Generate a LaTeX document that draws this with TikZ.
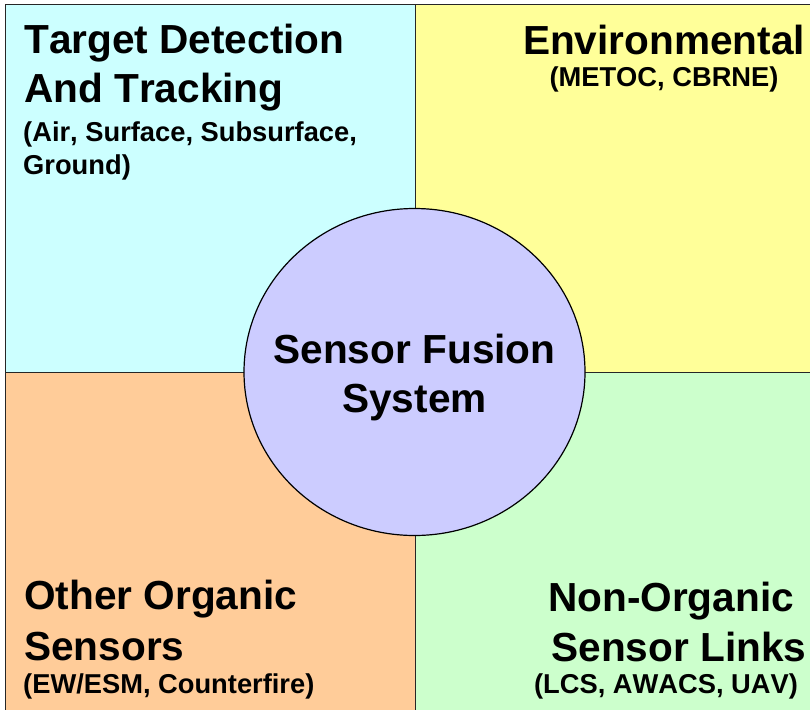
\documentclass[tikz,border=0pt]{standalone}
\usepackage{fontspec}
\setmainfont[Kerning=Off]{Liberation Sans}
\usetikzlibrary{shapes.geometric}

\definecolor{qtarget}{HTML}{CCFFFF}
\definecolor{qenv}{HTML}{FFFF99}
\definecolor{qorganic}{HTML}{FFCC99}
\definecolor{qlinks}{HTML}{CCFFCC}
\definecolor{qfusion}{HTML}{CCCCFF}

\tikzset{
  quad/.style={draw=black!85, line width=1.2pt, rectangle, inner sep=0pt, anchor=north west},
  head/.style={font=\fontsize{40.6}{49}\selectfont\bfseries, inner sep=0pt},
  sub/.style={font=\fontsize{27.3}{32}\selectfont\bfseries, inner sep=0pt},
}

\begin{document}
\begin{tikzpicture}[x=1pt, y=-1pt]
  \useasboundingbox (0,0) rectangle (810,709);
  \clip (0,0) rectangle (810,709);

  % four quadrants, the outer ones running past the page edge
  \node[quad, fill=qtarget,  minimum width=410pt, minimum height=368pt] (tl) at (5,4) {};
  \node[quad, fill=qenv,     minimum width=420pt, minimum height=368pt] (tr) at (415,4) {};
  \node[quad, fill=qorganic, minimum width=410pt, minimum height=360pt] (bl) at (5,372) {};
  \node[quad, fill=qlinks,   minimum width=420pt, minimum height=360pt] (br) at (415,372) {};

  % central hub
  \node[ellipse, draw=black, line width=1.2pt, fill=qfusion,
        minimum width=341pt, minimum height=327pt] (hub) at (414.5,372) {};
  \node[head, anchor=base] (hub1) at (414.5,363) {Sensor Fusion};
  \node[head, anchor=base] (hub2) at (414.5,412) {System};

  % top left
  \node[head, anchor=base west] (tl1) at (24,53)  {Target Detection};
  \node[head, anchor=base west] (tl2) at (24,102) {And Tracking};
  \node[sub,  anchor=base west] (tl3) at (23,141) {(Air, Surface, Subsurface,};
  \node[sub,  anchor=base west] (tl4) at (23,174) {Ground)};

  % top right
  \node[head, anchor=base] (tr1) at (664,55) {Environmental};
  \node[sub,  anchor=base] (tr2) at (664,86) {(METOC, CBRNE)};

  % bottom left
  \node[head, anchor=base west] (bl1) at (24,609) {Other Organic};
  \node[head, anchor=base west] (bl2) at (24,660) {Sensors};
  \node[sub,  anchor=base west] (bl3) at (23,693) {(EW/ESM, Counterfire)};

  % bottom right
  \node[head, anchor=base] (br1) at (671,611) {Non-Organic};
  \node[head, anchor=base] (br2) at (679,661) {Sensor Links};
  \node[sub,  anchor=base] (br3) at (666,693) {(LCS, AWACS, UAV)};
\end{tikzpicture}
\end{document}
